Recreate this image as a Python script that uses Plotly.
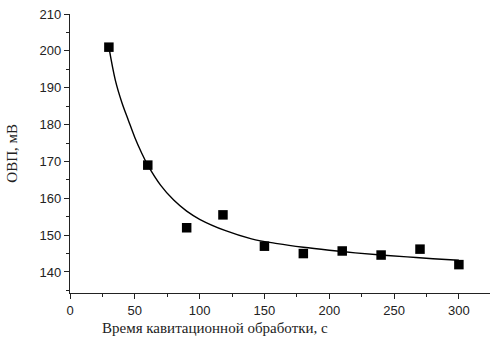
import plotly.graph_objects as go

# measured points
time_s = [30, 60, 90, 118, 150, 180, 210, 240, 270, 300]
orp_mv = [201, 169, 152, 155.5, 147, 145, 145.7, 144.6, 146.2, 142]

# fitted curve
fit_x = [30, 35, 40, 45, 50, 55, 60, 70, 80, 90, 100, 120, 140, 160, 180, 200, 220, 240, 260, 280, 300]
fit_y = [201, 192, 186, 181.2, 176.5, 172.5, 169, 163.5, 159.5, 156.5, 154.3, 151.2, 149, 147.7, 146.7, 145.9, 145.2, 144.6, 144.1, 143.6, 143.2]

x_title = "Время кавитационной обработки, с"
y_title = "ОВП, мВ"

fig = go.Figure()
fig.add_trace(go.Scatter(x=fit_x, y=fit_y, mode="lines",
                         line=dict(color="black", width=1.4, shape="spline"),
                         showlegend=False, hoverinfo="skip"))
fig.add_trace(go.Scatter(x=time_s, y=orp_mv, mode="markers",
                         marker=dict(symbol="square", size=9.5, color="black"),
                         showlegend=False))

axis_common = dict(showgrid=False, zeroline=False, showline=True, linecolor="#222",
                   linewidth=1.3, ticks="outside", ticklen=5, tickcolor="#222", tickwidth=1.2,
                   automargin=False,
                   tickfont=dict(family="Liberation Sans, Arial, sans-serif", size=13, color="#222"))

fig.update_xaxes(range=[0, 324], tickvals=[0, 50, 100, 150, 200, 250, 300],
                 minor=dict(ticks="outside", ticklen=3, dtick=25, tick0=0, tickcolor="#222"),
                 **axis_common)
fig.update_yaxes(range=[134.3, 210], tickvals=[140, 150, 160, 170, 180, 190, 200, 210],
                 minor=dict(ticks="outside", ticklen=3, dtick=5, tick0=0, tickcolor="#222"),
                 **axis_common)

title_font = dict(family="Liberation Serif, Times New Roman, serif", size=15, color="#222")
fig.add_annotation(text=x_title, xref="paper", yref="paper", x=0.345, y=-0.09,
                   xanchor="center", yanchor="top", showarrow=False, font=title_font)
fig.add_annotation(text=y_title, xref="paper", yref="paper", x=-0.14, y=0.5,
                   xanchor="center", yanchor="middle", showarrow=False, textangle=-90,
                   font=title_font)

fig.update_layout(width=498, height=344, plot_bgcolor="white", paper_bgcolor="white",
                  margin=dict(l=70, r=8, t=14, b=51))

fig.write_html("out.html", config={"displayModeBar": False},
               post_script="document.body.style.margin='0';")
